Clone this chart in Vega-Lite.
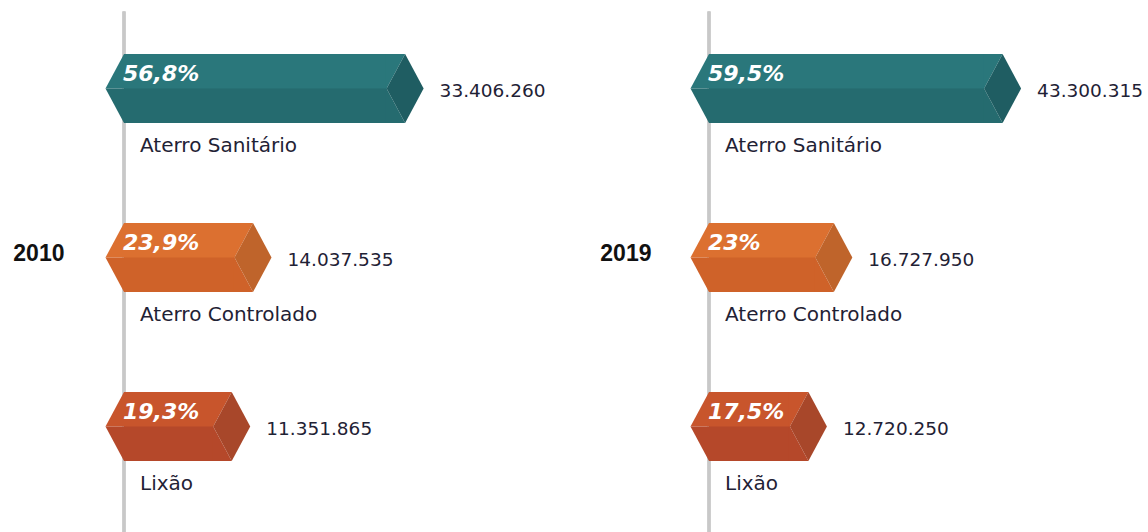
{
  "$schema": "https://vega.github.io/schema/vega-lite/v6.json",
  "padding": {"left": 12, "top": 9.5, "right": 0, "bottom": 0},
  "background": "white",
  "config": {
    "view": {"stroke": null},
    "locale": {"number": {"decimal": ",", "thousands": ".", "grouping": [3], "currency": ["R$", ""]}}
  },
  "data": {"values": [
    {"year": 2010, "tipo": "Aterro Sanitário", "pct": 0.568, "ton": 33406260},
    {"year": 2010, "tipo": "Aterro Controlado", "pct": 0.239, "ton": 14037535},
    {"year": 2010, "tipo": "Lixão", "pct": 0.193, "ton": 11351865},
    {"year": 2019, "tipo": "Aterro Sanitário", "pct": 0.595, "ton": 43300315},
    {"year": 2019, "tipo": "Aterro Controlado", "pct": 0.23, "ton": 16727950},
    {"year": 2019, "tipo": "Lixão", "pct": 0.175, "ton": 12720250}
  ]},
  "bounds": "flush",
  "spacing": 155,
  "hconcat": [
    {
      "width": 430, "height": 525,
      "transform": [{"filter": "datum.year == 2010"}],
      "encoding": {
        "x": {"field": "pct", "type": "quantitative", "scale": {"domain": [0, 0.93]}, "axis": null}
      },
      "layer": [
        {"mark": {"type": "rule", "color": "#c8c8c8", "strokeWidth": 3},
         "encoding": {"x": {"datum": 0, "axis": null}}},
        {
          "encoding": {
            "y": {"field": "tipo", "type": "nominal",
                  "scale": {"type": "point", "domain": ["Aterro Sanitário", "Aterro Controlado", "Lixão"], "range": [77, 415], "padding": 0},
                  "axis": {"title": "2010", "labels": false, "ticks": false, "domain": false, "grid": false, "titleAngle": 0, "titleAlign": "right", "titleBaseline": "middle", "titleX": -60, "titleY": 242, "titleFont": "Liberation Sans", "titleFontSize": 23, "titleFontWeight": "bold", "titleColor": "#111111"}}
          },
          "layer": [
            {"mark": {"type": "bar", "height": 69},
             "encoding": {"color": {"field": "tipo", "type": "nominal", "legend": null, "scale": {"domain": ["Aterro Sanitário", "Aterro Controlado", "Lixão"], "range": ["#256b6f", "#cf6229", "#b5482a"]}}}},
            {"mark": {"type": "bar", "height": 34.5, "yOffset": -17.25},
             "encoding": {"color": {"field": "tipo", "type": "nominal", "legend": null, "scale": {"domain": ["Aterro Sanitário", "Aterro Controlado", "Lixão"], "range": ["#2a777b", "#dc7030", "#c8552c"]}}}},
            {"mark": {"type": "point", "shape": "M-18.5,0L0,-34.5L1,-34.5L1,0Z", "size": 4, "filled": true, "opacity": 1, "strokeWidth": 0},
             "encoding": {"x": {"datum": 0, "axis": null},
                          "color": {"field": "tipo", "type": "nominal", "legend": null, "scale": {"domain": ["Aterro Sanitário", "Aterro Controlado", "Lixão"], "range": ["#2a777b", "#dc7030", "#c8552c"]}}}},
            {"mark": {"type": "point", "shape": "M-18.5,0L1,0L1,34.5L0,34.5Z", "size": 4, "filled": true, "opacity": 1, "strokeWidth": 0},
             "encoding": {"x": {"datum": 0, "axis": null},
                          "color": {"field": "tipo", "type": "nominal", "legend": null, "scale": {"domain": ["Aterro Sanitário", "Aterro Controlado", "Lixão"], "range": ["#256b6f", "#cf6229", "#b5482a"]}}}},
            {"mark": {"type": "point", "shape": "M-1,-34.5L18.5,-34.5L0,0L-1,0Z", "size": 4, "filled": true, "opacity": 1, "strokeWidth": 0},
             "encoding": {"color": {"field": "tipo", "type": "nominal", "legend": null, "scale": {"domain": ["Aterro Sanitário", "Aterro Controlado", "Lixão"], "range": ["#2a777b", "#dc7030", "#c8552c"]}}}},
            {"mark": {"type": "point", "shape": "M-1,0L0,0L18.5,34.5L-1,34.5Z", "size": 4, "filled": true, "opacity": 1, "strokeWidth": 0},
             "encoding": {"color": {"field": "tipo", "type": "nominal", "legend": null, "scale": {"domain": ["Aterro Sanitário", "Aterro Controlado", "Lixão"], "range": ["#256b6f", "#cf6229", "#b5482a"]}}}},
            {"mark": {"type": "point", "shape": "M0,0L18.5,-34.5L37,0L18.5,34.5Z", "size": 4, "filled": true, "opacity": 1, "strokeWidth": 0},
             "encoding": {"color": {"field": "tipo", "type": "nominal", "legend": null, "scale": {"domain": ["Aterro Sanitário", "Aterro Controlado", "Lixão"], "range": ["#1f5d62", "#bf642b", "#a8472a"]}}}},
            {"mark": {"type": "text", "align": "left", "baseline": "middle", "dx": -1, "dy": -15, "font": "DejaVu Sans", "fontSize": 22, "fontWeight": "bold", "fontStyle": "italic", "color": "#ffffff"},
             "encoding": {"x": {"datum": 0, "axis": null},
                          "text": {"field": "pct", "type": "quantitative", "format": ".3~%"}}},
            {"mark": {"type": "text", "align": "left", "baseline": "middle", "dx": 53, "dy": 2, "font": "DejaVu Sans", "fontSize": 18.5, "color": "#1f2235"},
             "encoding": {"text": {"field": "ton", "type": "quantitative", "format": ",d"}}},
            {"mark": {"type": "text", "align": "left", "baseline": "middle", "dx": 16, "dy": 57, "font": "DejaVu Sans", "fontSize": 20, "color": "#1f2235"},
             "encoding": {"x": {"datum": 0, "axis": null},
                          "text": {"field": "tipo", "type": "nominal"}}}
          ],
          "resolve": {"scale": {"color": "independent"}}
        }
      ],
      "resolve": {"scale": {"color": "independent"}}
    },
    {
      "width": 430, "height": 525,
      "transform": [{"filter": "datum.year == 2019"}],
      "encoding": {
        "x": {"field": "pct", "type": "quantitative", "scale": {"domain": [0, 0.93]}, "axis": null}
      },
      "layer": [
        {"mark": {"type": "rule", "color": "#c8c8c8", "strokeWidth": 3},
         "encoding": {"x": {"datum": 0, "axis": null}}},
        {
          "encoding": {
            "y": {"field": "tipo", "type": "nominal",
                  "scale": {"type": "point", "domain": ["Aterro Sanitário", "Aterro Controlado", "Lixão"], "range": [77, 415], "padding": 0},
                  "axis": {"title": "2019", "labels": false, "ticks": false, "domain": false, "grid": false, "titleAngle": 0, "titleAlign": "right", "titleBaseline": "middle", "titleX": -58, "titleY": 242, "titleFont": "Liberation Sans", "titleFontSize": 23, "titleFontWeight": "bold", "titleColor": "#111111"}}
          },
          "layer": [
            {"mark": {"type": "bar", "height": 69},
             "encoding": {"color": {"field": "tipo", "type": "nominal", "legend": null, "scale": {"domain": ["Aterro Sanitário", "Aterro Controlado", "Lixão"], "range": ["#256b6f", "#cf6229", "#b5482a"]}}}},
            {"mark": {"type": "bar", "height": 34.5, "yOffset": -17.25},
             "encoding": {"color": {"field": "tipo", "type": "nominal", "legend": null, "scale": {"domain": ["Aterro Sanitário", "Aterro Controlado", "Lixão"], "range": ["#2a777b", "#dc7030", "#c8552c"]}}}},
            {"mark": {"type": "point", "shape": "M-18.5,0L0,-34.5L1,-34.5L1,0Z", "size": 4, "filled": true, "opacity": 1, "strokeWidth": 0},
             "encoding": {"x": {"datum": 0, "axis": null},
                          "color": {"field": "tipo", "type": "nominal", "legend": null, "scale": {"domain": ["Aterro Sanitário", "Aterro Controlado", "Lixão"], "range": ["#2a777b", "#dc7030", "#c8552c"]}}}},
            {"mark": {"type": "point", "shape": "M-18.5,0L1,0L1,34.5L0,34.5Z", "size": 4, "filled": true, "opacity": 1, "strokeWidth": 0},
             "encoding": {"x": {"datum": 0, "axis": null},
                          "color": {"field": "tipo", "type": "nominal", "legend": null, "scale": {"domain": ["Aterro Sanitário", "Aterro Controlado", "Lixão"], "range": ["#256b6f", "#cf6229", "#b5482a"]}}}},
            {"mark": {"type": "point", "shape": "M-1,-34.5L18.5,-34.5L0,0L-1,0Z", "size": 4, "filled": true, "opacity": 1, "strokeWidth": 0},
             "encoding": {"color": {"field": "tipo", "type": "nominal", "legend": null, "scale": {"domain": ["Aterro Sanitário", "Aterro Controlado", "Lixão"], "range": ["#2a777b", "#dc7030", "#c8552c"]}}}},
            {"mark": {"type": "point", "shape": "M-1,0L0,0L18.5,34.5L-1,34.5Z", "size": 4, "filled": true, "opacity": 1, "strokeWidth": 0},
             "encoding": {"color": {"field": "tipo", "type": "nominal", "legend": null, "scale": {"domain": ["Aterro Sanitário", "Aterro Controlado", "Lixão"], "range": ["#256b6f", "#cf6229", "#b5482a"]}}}},
            {"mark": {"type": "point", "shape": "M0,0L18.5,-34.5L37,0L18.5,34.5Z", "size": 4, "filled": true, "opacity": 1, "strokeWidth": 0},
             "encoding": {"color": {"field": "tipo", "type": "nominal", "legend": null, "scale": {"domain": ["Aterro Sanitário", "Aterro Controlado", "Lixão"], "range": ["#1f5d62", "#bf642b", "#a8472a"]}}}},
            {"mark": {"type": "text", "align": "left", "baseline": "middle", "dx": -1, "dy": -15, "font": "DejaVu Sans", "fontSize": 22, "fontWeight": "bold", "fontStyle": "italic", "color": "#ffffff"},
             "encoding": {"x": {"datum": 0, "axis": null},
                          "text": {"field": "pct", "type": "quantitative", "format": ".3~%"}}},
            {"mark": {"type": "text", "align": "left", "baseline": "middle", "dx": 53, "dy": 2, "font": "DejaVu Sans", "fontSize": 18.5, "color": "#1f2235"},
             "encoding": {"text": {"field": "ton", "type": "quantitative", "format": ",d"}}},
            {"mark": {"type": "text", "align": "left", "baseline": "middle", "dx": 16, "dy": 57, "font": "DejaVu Sans", "fontSize": 20, "color": "#1f2235"},
             "encoding": {"x": {"datum": 0, "axis": null},
                          "text": {"field": "tipo", "type": "nominal"}}}
          ],
          "resolve": {"scale": {"color": "independent"}}
        }
      ],
      "resolve": {"scale": {"color": "independent"}}
    }
  ]
}
